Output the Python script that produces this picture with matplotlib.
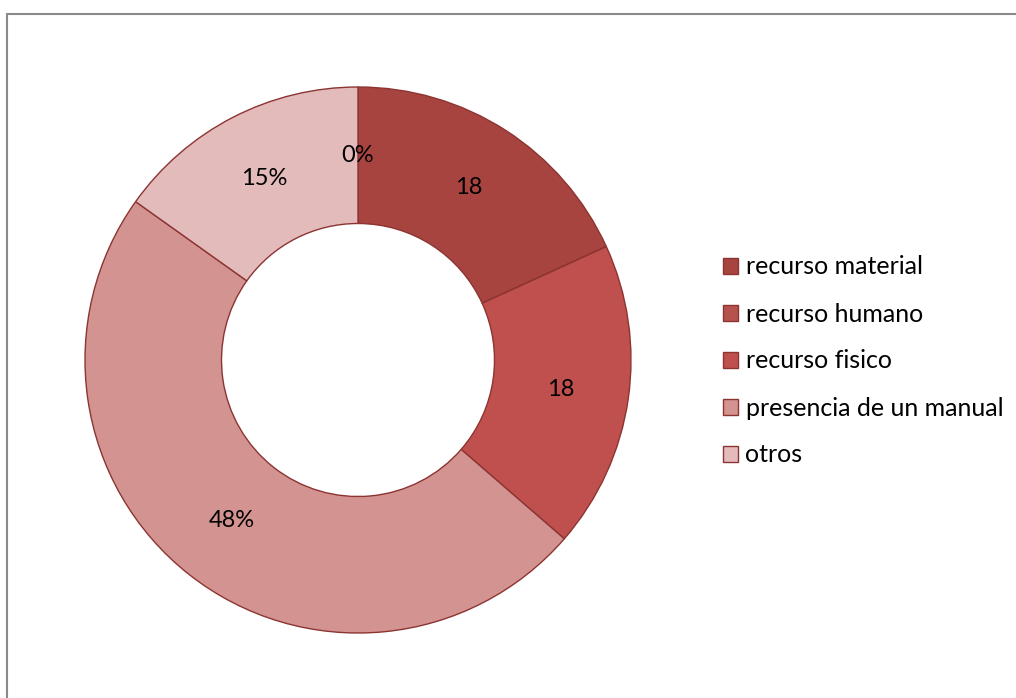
import numpy as np
import matplotlib
matplotlib.use("Agg")
import matplotlib.pyplot as plt
from matplotlib.patches import Rectangle

categories = ["recurso material", "recurso humano", "recurso fisico",
              "presencia de un manual", "otros"]
values = [18, 0, 18, 48, 15]
labels = ["18", "0%", "18", "48%", "15%"]
colors = ["#A8443F", "#B6524E", "#C0504D", "#D39391", "#E2BBBA"]

plt.rcParams["font.family"] = ["Lato", "DejaVu Sans"]

W, H = 1016, 698
fig = plt.figure(figsize=(W / 100, H / 100), dpi=100)

# donut centred at (358, 360) px, outer radius 273 px
cx, cy, r = 358, 360, 273
ax = fig.add_axes([(cx - r) / W, (H - cy - r) / H, 2 * r / W, 2 * r / H])
wedges, _ = ax.pie(values, colors=colors, startangle=90, counterclock=False,
                   radius=1.0,
                   wedgeprops=dict(width=0.5, edgecolor="#8C3431", linewidth=1.0))
ax.set_xlim(-1, 1)
ax.set_ylim(-1, 1)
ax.set_aspect("equal")
ax.axis("off")

# value labels at the middle of the ring
total = float(sum(values))
start = 90.0
for v, lab in zip(values, labels):
    span = 360.0 * v / total
    mid = start - span / 2 if v > 0 else 90.0
    a = np.deg2rad(mid)
    ax.text(0.75 * np.cos(a), 0.75 * np.sin(a), lab, ha="center", va="center",
            fontsize=17, color="#000000")
    start -= span

leg = fig.legend(wedges, categories, loc="center left",
                 bbox_to_anchor=(713 / W, 1 - 361 / H), frameon=False,
                 fontsize=18, handlelength=0.6, handleheight=0.6,
                 handletextpad=0.3, labelspacing=0.96, borderaxespad=0)

# chart area frame
fig.patches.append(Rectangle((7 / W, -0.1), 1.2, 1 - 14 / H + 0.1,
                             transform=fig.transFigure, fill=False,
                             edgecolor="#8A8A8A", linewidth=1.5))

fig.savefig("out.png", dpi=100)
